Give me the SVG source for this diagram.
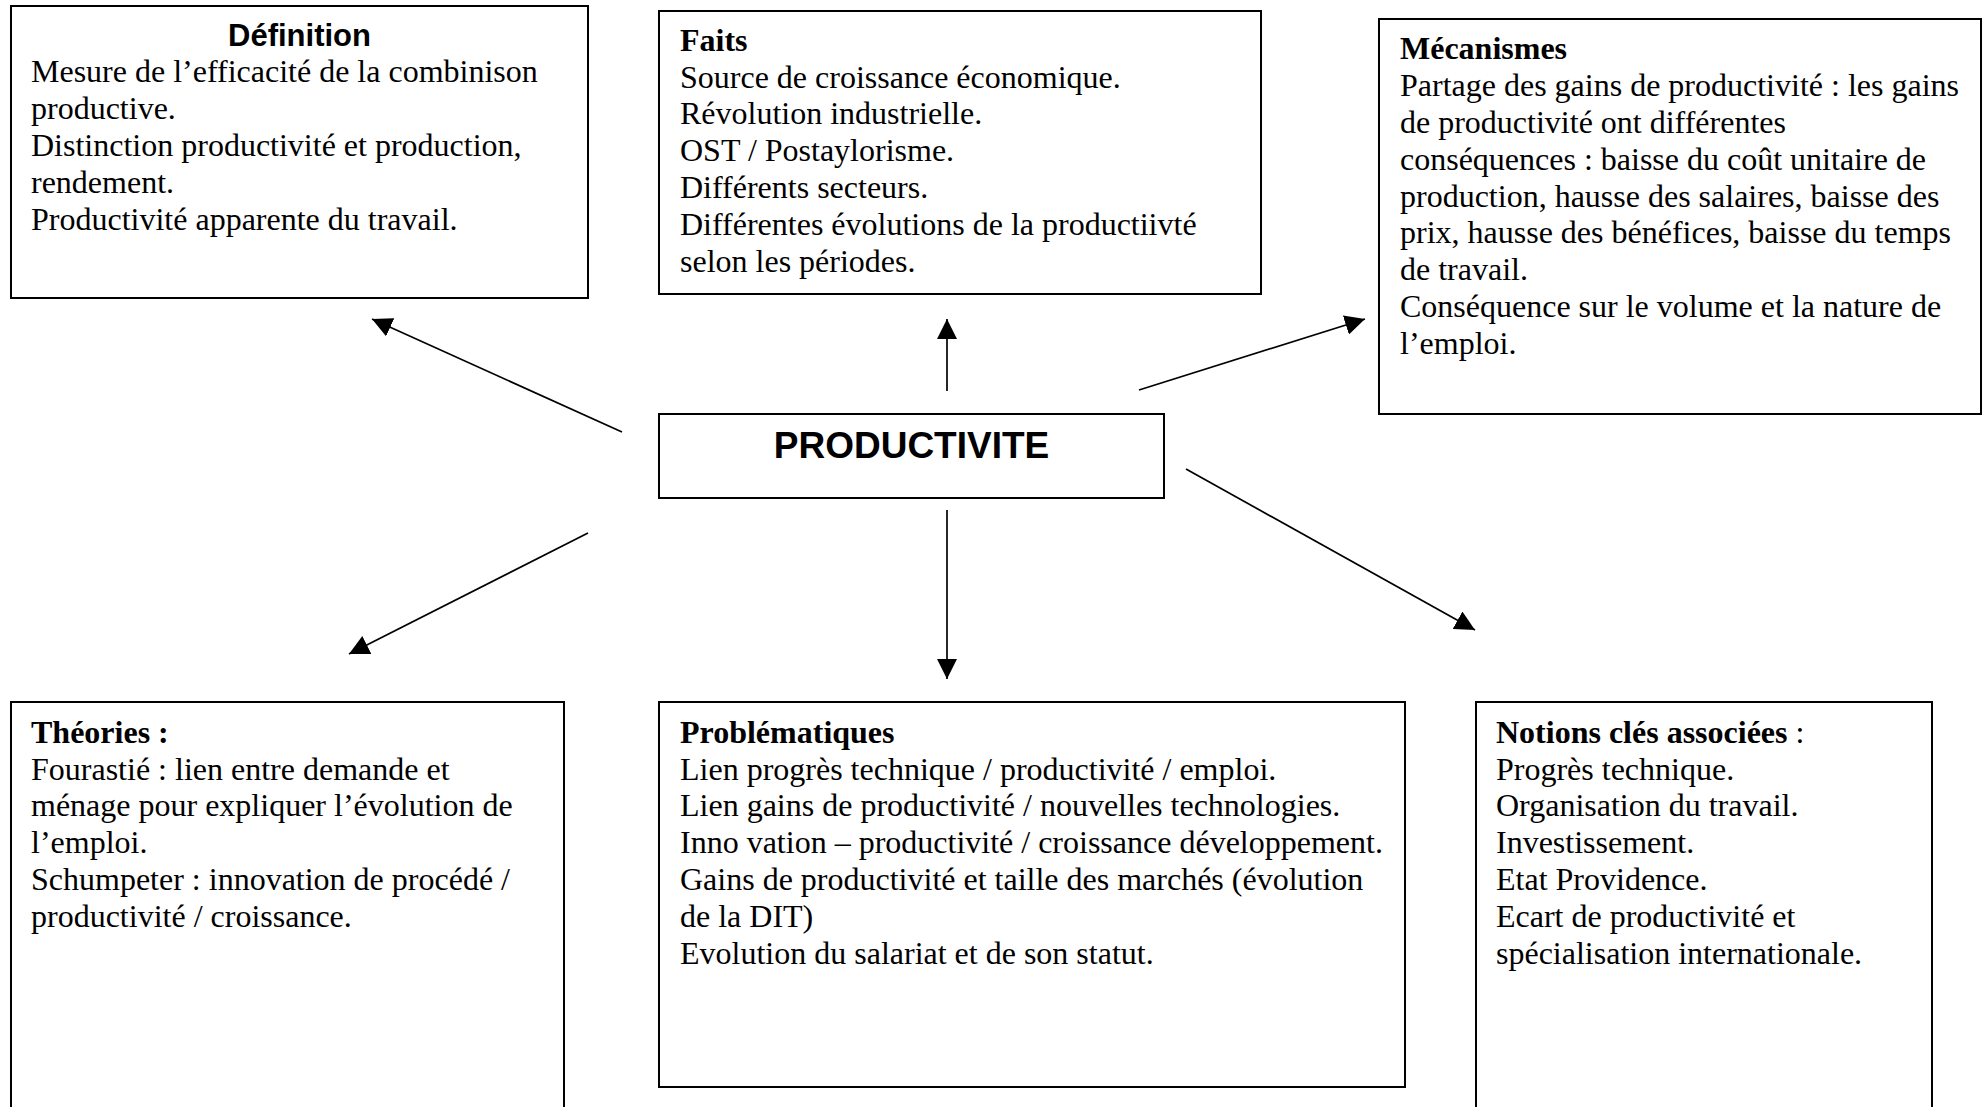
<svg xmlns="http://www.w3.org/2000/svg" width="1986" height="1107" viewBox="0 0 1986 1107">
<style>
.box{fill:#fff;stroke:#000;stroke-width:2}
.t{font-family:"Liberation Serif","Times New Roman",serif;font-size:32px;fill:#000}
.b{font-weight:bold}
.h{font-family:"Liberation Sans",Arial,sans-serif;font-weight:bold;fill:#000}
.c{stroke:#000;stroke-width:1.7;fill:none;marker-end:url(#ah)}
</style>
<defs>
<marker id="ah" markerUnits="userSpaceOnUse" markerWidth="20" markerHeight="20" refX="20" refY="10" orient="auto">
<path d="M0,0 L20,10 L0,20 z" fill="#000"/>
</marker>
</defs>
<rect width="1986" height="1107" fill="#fff"/>
<g id="connectors">
<line class="c" x1="622" y1="432" x2="372" y2="319"/>
<line class="c" x1="947" y1="391" x2="947" y2="319"/>
<line class="c" x1="1139" y1="390" x2="1365" y2="319"/>
<line class="c" x1="588" y1="533" x2="349" y2="654"/>
<line class="c" x1="947" y1="510" x2="947" y2="679"/>
<line class="c" x1="1186" y1="469" x2="1475" y2="630"/>
</g>
<g id="definition">
<rect class="box" x="11" y="6" width="577" height="292"/>
<text class="h" x="299.5" y="45.7" font-size="31" text-anchor="middle">Définition</text>
<text class="t">
<tspan x="31" y="82.4">Mesure de l’efficacité de la combinison</tspan>
<tspan x="31" y="119.2">productive.</tspan>
<tspan x="31" y="156">Distinction productivité et production,</tspan>
<tspan x="31" y="192.8">rendement.</tspan>
<tspan x="31" y="229.6">Productivité apparente du travail.</tspan>
</text>
</g>
<g id="faits">
<rect class="box" x="659" y="11" width="602" height="283"/>
<text class="t">
<tspan class="b" x="680" y="50.7">Faits</tspan>
<tspan x="680" y="87.5">Source de croissance économique.</tspan>
<tspan x="680" y="124.3">Révolution industrielle.</tspan>
<tspan x="680" y="161.1">OST / Postaylorisme.</tspan>
<tspan x="680" y="197.9">Différents secteurs.</tspan>
<tspan x="680" y="234.7">Différentes évolutions de la productiivté</tspan>
<tspan x="680" y="271.5">selon les périodes.</tspan>
</text>
</g>
<g id="mecanismes">
<rect class="box" x="1379" y="19" width="602" height="395"/>
<text class="t">
<tspan class="b" x="1400" y="59.3">Mécanismes</tspan>
<tspan x="1400" y="96.1">Partage des gains de productivité : les gains</tspan>
<tspan x="1400" y="132.9">de productivité ont différentes</tspan>
<tspan x="1400" y="169.7">conséquences : baisse du coût unitaire de</tspan>
<tspan x="1400" y="206.5">production, hausse des salaires, baisse des</tspan>
<tspan x="1400" y="243.3">prix, hausse des bénéfices, baisse du temps</tspan>
<tspan x="1400" y="280.1">de travail.</tspan>
<tspan x="1400" y="316.9">Conséquence sur le volume et la nature de</tspan>
<tspan x="1400" y="353.7">l’emploi.</tspan>
</text>
</g>
<g id="productivite">
<rect class="box" x="659" y="414" width="505" height="84"/>
<text class="h" x="911.5" y="458" font-size="37" text-anchor="middle">PRODUCTIVITE</text>
</g>
<g id="theories">
<rect class="box" x="11" y="702" width="553" height="430"/>
<text class="t">
<tspan class="b" x="31" y="742.7">Théories :</tspan>
<tspan x="31" y="779.5">Fourastié : lien entre demande et</tspan>
<tspan x="31" y="816.3">ménage pour expliquer l’évolution de</tspan>
<tspan x="31" y="853.1">l’emploi.</tspan>
<tspan x="31" y="889.9">Schumpeter : innovation de procédé /</tspan>
<tspan x="31" y="926.7">productivité / croissance.</tspan>
</text>
</g>
<g id="problematiques">
<rect class="box" x="659" y="702" width="746" height="385"/>
<text class="t">
<tspan class="b" x="680" y="742.7">Problématiques</tspan>
<tspan x="680" y="779.5">Lien progrès technique / productivité / emploi.</tspan>
<tspan x="680" y="816.3">Lien gains de productivité / nouvelles technologies.</tspan>
<tspan x="680" y="853.1">Inno vation – productivité / croissance développement.</tspan>
<tspan x="680" y="889.9">Gains de productivité et taille des marchés (évolution</tspan>
<tspan x="680" y="926.7">de la DIT)</tspan>
<tspan x="680" y="963.5">Evolution du salariat et de son statut.</tspan>
</text>
</g>
<g id="notions">
<rect class="box" x="1476" y="702" width="456" height="430"/>
<text class="t">
<tspan x="1496" y="742.7"><tspan class="b">Notions clés associées</tspan> :</tspan>
<tspan x="1496" y="779.5">Progrès technique.</tspan>
<tspan x="1496" y="816.3">Organisation du travail.</tspan>
<tspan x="1496" y="853.1">Investissement.</tspan>
<tspan x="1496" y="889.9">Etat Providence.</tspan>
<tspan x="1496" y="926.7">Ecart de productivité et</tspan>
<tspan x="1496" y="963.5">spécialisation internationale.</tspan>
</text>
</g>
</svg>
